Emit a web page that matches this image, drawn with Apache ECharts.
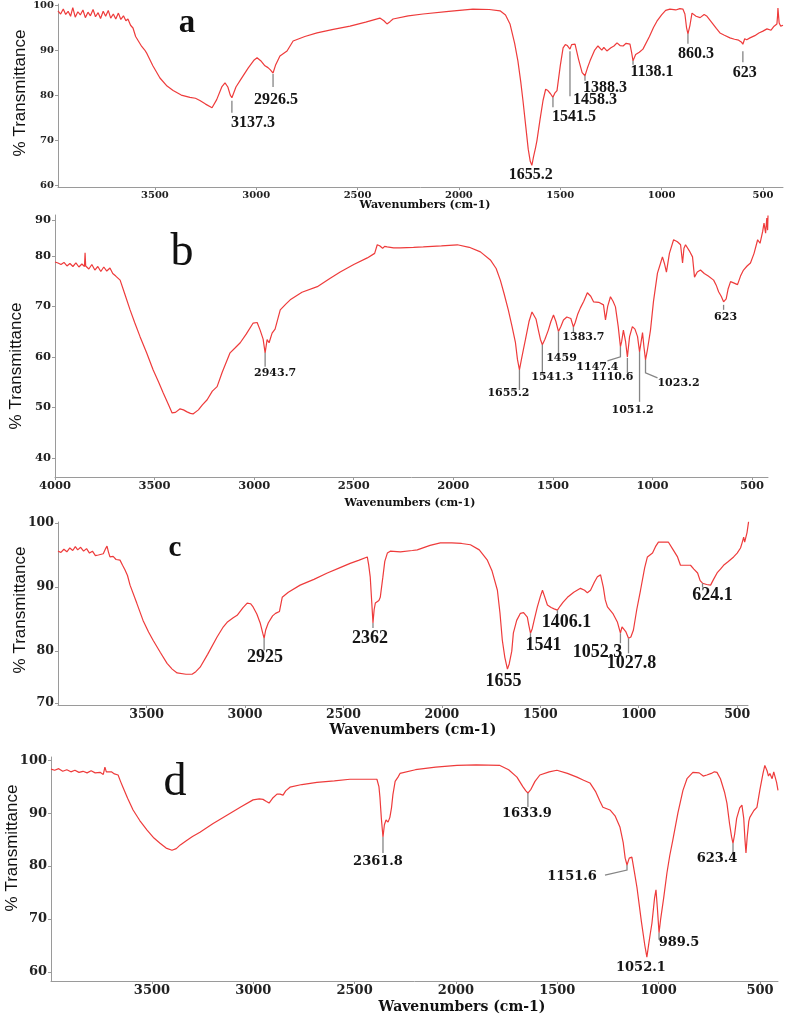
<!DOCTYPE html>
<html><head><meta charset="utf-8">
<script src="https://cdn.jsdelivr.net/npm/echarts@6/dist/echarts.min.js"></script>
<style>html,body{margin:0;padding:0;background:#fff}#c{width:787px;height:1017px}</style>
</head><body><div id="c"></div>
<script>
// ---------------- data (wavenumber cm-1, % transmittance) ----------------
const spectrumA = [[3978,98.7],[3965,98.0],[3952,99.1],[3940,97.9],[3928,98.6],[3916,97.5],[3905,99.4],[3893,97.3],[3880,98.5],[3868,97.8],[3855,98.9],[3843,97.2],[3830,98.4],[3818,97.6],[3805,99.0],[3793,97.4],[3780,98.3],[3768,97.0],[3755,98.6],[3743,97.5],[3730,98.8],[3718,97.1],[3705,98.0],[3693,96.9],[3680,98.2],[3668,96.8],[3655,97.6],[3643,96.5],[3633,96.9],[3620,95.5],[3608,94.9],[3595,93.0],[3580,91.9],[3565,90.8],[3550,90.0],[3539,89.2],[3510,86.5],[3475,83.8],[3440,82.0],[3410,81.0],[3370,80.0],[3327,79.5],[3300,79.3],[3278,78.8],[3250,78.0],[3218,77.2],[3195,79.0],[3170,81.8],[3154,82.7],[3140,81.8],[3128,80.0],[3120,79.4],[3100,81.8],[3080,83.2],[3040,86.0],[3010,87.8],[2996,88.3],[2975,87.5],[2957,86.5],[2942,86.1],[2930,85.6],[2917,84.9],[2905,86.6],[2883,88.7],[2848,89.8],[2818,92.0],[2760,93.0],[2700,93.8],[2620,94.6],[2537,95.3],[2460,96.2],[2390,97.1],[2370,96.5],[2355,95.8],[2340,96.3],[2325,96.9],[2250,97.6],[2177,98.0],[2050,98.6],[1931,99.1],[1850,99.0],[1797,98.7],[1770,97.8],[1748,95.8],[1725,91.5],[1709,87.6],[1695,83.0],[1684,78.8],[1670,73.0],[1658,68.0],[1648,65.3],[1640,64.4],[1632,66.3],[1622,68.3],[1615,69.9],[1600,74.5],[1585,78.8],[1572,81.3],[1561,81.0],[1548,80.3],[1536,79.5],[1526,80.5],[1516,81.0],[1500,86.5],[1486,90.5],[1475,91.2],[1465,91.0],[1452,90.2],[1444,91.2],[1435,91.4],[1427,91.3],[1410,88.0],[1392,85.0],[1378,84.3],[1366,86.0],[1353,87.6],[1330,90.0],[1314,90.9],[1295,90.0],[1285,90.6],[1270,89.8],[1250,90.5],[1235,90.9],[1220,91.6],[1205,91.0],[1190,90.9],[1175,91.5],[1156,91.3],[1148,89.5],[1141,87.6],[1128,89.0],[1110,89.5],[1092,90.2],[1060,93.0],[1040,95.0],[1023,96.4],[1000,97.8],[980,98.8],[959,99.1],[930,98.9],[910,99.2],[895,99.1],[885,98.0],[877,95.0],[870,93.6],[860,95.5],[850,98.2],[830,97.5],[810,97.2],[790,97.9],[776,97.5],[750,96.0],[730,94.8],[712,93.8],[690,93.3],[663,92.7],[640,92.4],[620,92.2],[607,91.8],[599,91.3],[590,92.5],[580,92.3],[564,92.7],[540,93.2],[520,93.8],[500,94.2],[480,94.7],[460,94.4],[445,95.3],[431,95.8],[428,97.5],[426,99.3],[420,96.0],[412,95.3],[406,94.9],[401,95.5]];

const spectrumB = [[4000,78.8],[3985,78.6],[3970,78.3],[3955,78.7],[3940,78.0],[3925,78.5],[3910,77.9],[3895,78.6],[3880,77.8],[3865,78.4],[3852,77.9],[3849,80.6],[3846,78.0],[3830,77.4],[3815,78.3],[3800,77.2],[3785,77.9],[3770,76.9],[3755,77.8],[3740,77.0],[3724,77.6],[3710,76.5],[3695,76.0],[3673,75.2],[3650,72.5],[3623,69.3],[3600,66.8],[3573,64.0],[3540,60.8],[3507,57.4],[3480,55.0],[3457,52.9],[3430,50.5],[3412,48.9],[3395,49.0],[3372,49.7],[3355,49.5],[3337,49.1],[3320,48.8],[3307,48.7],[3280,49.5],[3260,50.5],[3236,51.5],[3210,53.2],[3186,54.1],[3160,57.0],[3121,60.8],[3095,61.8],[3070,62.8],[3040,64.5],[3005,66.7],[2985,66.8],[2970,65.3],[2955,63.5],[2945,60.8],[2935,63.4],[2925,62.8],[2910,64.7],[2895,65.5],[2885,65.2],[2869,69.3],[2840,70.5],[2819,71.3],[2760,72.8],[2683,73.9],[2620,75.5],[2568,76.8],[2500,78.3],[2432,79.6],[2395,80.5],[2382,82.2],[2370,82.0],[2355,81.5],[2345,81.9],[2332,81.8],[2300,81.6],[2266,81.6],[2200,81.7],[2151,81.8],[2060,82.0],[1980,82.2],[1920,81.7],[1864,80.8],[1814,79.2],[1785,77.5],[1764,75.2],[1745,72.5],[1724,69.3],[1705,66.0],[1688,62.8],[1678,59.5],[1668,57.4],[1658,59.5],[1648,61.5],[1638,63.4],[1620,67.0],[1605,68.9],[1598,68.7],[1585,67.5],[1573,65.3],[1563,63.5],[1553,62.4],[1540,63.5],[1523,65.3],[1510,67.0],[1497,68.3],[1485,67.0],[1472,65.0],[1460,66.0],[1447,67.3],[1430,67.9],[1410,67.6],[1397,65.9],[1388,66.8],[1375,68.5],[1362,69.7],[1345,71.0],[1327,72.7],[1310,72.0],[1296,70.9],[1270,70.8],[1246,70.3],[1240,68.5],[1236,67.3],[1225,70.0],[1211,71.9],[1198,71.0],[1186,69.9],[1172,66.0],[1161,62.0],[1155,63.0],[1146,65.3],[1135,63.0],[1126,60.0],[1115,64.0],[1101,66.0],[1088,65.5],[1075,64.0],[1065,61.0],[1055,63.5],[1050,64.8],[1043,62.0],[1035,59.4],[1025,61.5],[1010,65.3],[995,71.0],[975,76.6],[960,78.5],[950,79.8],[940,78.5],[930,76.8],[915,80.5],[894,83.2],[875,82.8],[859,82.2],[849,78.6],[842,81.5],[834,82.2],[815,81.0],[799,79.8],[789,75.8],[775,76.8],[759,77.2],[740,76.5],[720,76.0],[693,75.2],[680,74.2],[668,72.9],[655,72.0],[643,70.9],[630,71.5],[620,73.5],[608,74.9],[590,74.6],[573,74.3],[558,76.0],[543,77.2],[525,78.0],[508,78.6],[490,80.5],[472,83.2],[460,82.5],[447,84.8],[440,86.5],[432,84.5],[426,87.5],[422,85.1],[420,88.0]];

const spectrumC = [[3950,95.6],[3935,95.4],[3920,95.9],[3905,95.5],[3890,96.1],[3875,95.7],[3862,96.3],[3850,95.8],[3835,96.2],[3820,95.6],[3805,96.0],[3790,95.3],[3775,95.6],[3760,94.9],[3745,95.0],[3736,94.7],[3720,95.2],[3708,96.0],[3701,96.4],[3694,95.5],[3686,94.7],[3670,94.8],[3655,94.3],[3635,94.2],[3622,93.4],[3610,92.7],[3597,91.8],[3584,90.3],[3550,87.5],[3518,84.8],[3490,83.0],[3467,81.7],[3430,79.8],[3396,78.1],[3370,77.2],[3345,76.6],[3300,76.4],[3269,76.4],[3250,76.8],[3228,77.5],[3190,79.5],[3142,82.2],[3110,83.8],[3091,84.5],[3060,85.2],[3040,85.6],[3010,86.8],[2989,87.5],[2972,87.4],[2959,86.9],[2940,85.8],[2923,84.4],[2910,82.8],[2903,82.0],[2895,83.3],[2882,84.4],[2860,85.5],[2845,85.9],[2837,85.7],[2825,86.2],[2811,88.4],[2780,89.2],[2720,90.3],[2650,91.2],[2582,92.2],[2520,93.0],[2466,93.7],[2420,94.2],[2379,94.7],[2372,93.5],[2364,91.6],[2356,87.5],[2350,84.4],[2344,86.5],[2338,87.5],[2328,87.6],[2320,87.9],[2313,88.4],[2300,91.5],[2290,94.0],[2277,95.3],[2262,95.6],[2211,95.5],[2150,95.7],[2125,95.8],[2060,96.5],[2008,96.9],[1950,96.9],[1900,96.8],[1855,96.6],[1810,95.8],[1769,94.2],[1745,92.5],[1718,89.5],[1705,86.0],[1693,81.7],[1680,79.0],[1667,77.2],[1658,78.0],[1645,80.0],[1637,82.8],[1620,84.8],[1601,85.9],[1585,86.0],[1566,85.3],[1558,84.0],[1550,82.8],[1541,83.5],[1530,85.0],[1515,86.9],[1500,88.5],[1489,89.5],[1478,88.5],[1464,87.2],[1445,86.8],[1430,86.6],[1413,86.4],[1400,87.0],[1385,87.6],[1362,88.4],[1330,89.2],[1296,89.8],[1275,89.5],[1261,89.1],[1245,89.5],[1225,90.8],[1210,91.6],[1194,91.9],[1180,90.0],[1170,88.0],[1159,86.9],[1130,85.8],[1108,84.5],[1093,82.8],[1085,83.8],[1078,83.6],[1065,83.0],[1052,82.0],[1040,82.2],[1027,83.3],[1010,86.5],[991,89.5],[970,93.0],[956,94.7],[943,95.0],[930,95.3],[915,96.3],[900,97.0],[870,97.0],[849,97.0],[825,95.8],[803,94.7],[788,93.4],[760,93.4],[737,93.4],[720,92.8],[701,92.2],[688,91.0],[676,90.6],[655,90.4],[635,90.3],[620,91.2],[600,92.3],[585,92.8],[569,93.4],[545,94.0],[518,94.7],[500,95.3],[483,96.1],[475,96.9],[467,97.8],[462,97.0],[457,96.9],[450,98.5],[442,100.2]];

const spectrumD = [[3998,98.3],[3980,98.1],[3960,98.4],[3940,97.9],[3920,98.2],[3900,97.8],[3880,98.1],[3860,97.7],[3840,97.9],[3820,97.6],[3800,98.0],[3780,97.6],[3756,97.7],[3740,97.3],[3732,98.7],[3725,97.8],[3717,97.5],[3700,97.8],[3685,97.4],[3667,97.2],[3655,96.0],[3643,94.9],[3620,92.8],[3593,90.6],[3560,88.6],[3524,86.8],[3490,85.3],[3460,84.3],[3430,83.4],[3401,83.0],[3380,83.3],[3360,84.0],[3327,84.9],[3300,85.6],[3263,86.4],[3200,88.0],[3130,89.6],[3060,91.2],[3001,92.5],[2970,92.7],[2952,92.6],[2935,92.2],[2922,91.9],[2905,92.8],[2883,93.6],[2868,93.6],[2853,93.4],[2840,94.2],[2819,94.9],[2760,95.4],[2686,95.8],[2600,96.1],[2523,96.4],[2450,96.4],[2390,96.4],[2380,95.0],[2375,93.0],[2368,89.0],[2360,85.5],[2353,87.8],[2345,88.7],[2335,88.3],[2326,89.2],[2318,91.0],[2311,93.5],[2300,96.0],[2286,96.8],[2276,97.5],[2200,98.2],[2100,98.7],[1995,99.0],[1900,99.1],[1783,99.0],[1740,98.2],[1699,96.8],[1670,95.0],[1655,94.2],[1645,93.8],[1630,94.5],[1610,96.0],[1586,97.2],[1540,97.8],[1502,98.1],[1450,97.5],[1403,96.8],[1370,96.2],[1339,95.7],[1310,94.0],[1290,92.3],[1275,91.1],[1240,90.6],[1215,89.5],[1191,87.4],[1175,84.5],[1165,81.5],[1156,80.2],[1145,81.5],[1132,81.7],[1120,79.0],[1107,76.0],[1085,69.5],[1068,65.0],[1058,62.8],[1048,65.5],[1040,67.5],[1033,69.2],[1020,74.0],[1013,75.5],[1006,72.0],[998,67.4],[990,70.0],[975,74.0],[959,78.7],[945,82.0],[930,84.9],[905,90.0],[880,94.3],[860,96.5],[831,97.7],[800,97.6],[780,97.0],[762,97.2],[740,97.5],[725,97.8],[712,97.7],[695,96.5],[675,94.0],[663,91.9],[650,88.0],[640,85.5],[633,84.3],[625,86.0],[615,89.0],[600,91.0],[589,91.5],[580,89.0],[574,85.0],[569,82.5],[563,85.5],[555,88.5],[550,89.2],[530,90.5],[515,91.1],[500,94.5],[485,97.5],[476,99.0],[465,98.0],[458,97.0],[451,97.5],[440,96.5],[432,97.8],[426,97.7],[418,95.8],[411,94.3]];

// peak annotations: position on the curve and label text
const peaksA = [[3120,79.4],[2917,84.9],[1640,64.4],[1536,79.5],[1452,90.2],[1378,84.3],[1141,87.6],[870,93.6],[599,91.3]];
const peakLabelsA = ['3137.3','2926.5','1655.2','1541.5','1458.3','1388.3','1138.1','860.3','623'];
const peaksB = [[2945,60.8],[1668,57.4],[1553,62.4],[1472,65.0],[1397,65.9],[1161,62.0],[1126,60.0],[1065,61.0],[1035,59.4],[643,70.9]];
const peakLabelsB = ['2943.7','1655.2','1541.3','1459','1383.7','1147.4','1110.6','1051.2','1023.2','623'];
const peaksC = [[2903,82.0],[2350,84.4],[1667,77.2],[1550,82.8],[1413,86.4],[1093,82.8],[1052,82.0],[676,90.6]];
const peakLabelsC = ['2925','2362','1655','1541','1406.1','1052.3','1027.8','624.1'];
const peaksD = [[2360,85.5],[1645,93.8],[1156,80.2],[1058,62.8],[998,67.4],[633,84.3]];
const peakLabelsD = ['2361.8','1633.9','1151.6','1052.1','989.5','623.4'];

// tick labels
const xTicksA = [3500,3000,2500,2000,1500,1000,500];
const xTicksB = [4000,3500,3000,2500,2000,1500,1000,500];
const xTicksC = [3500,3000,2500,2000,1500,1000,500];
const xTicksD = [3500,3000,2500,2000,1500,1000,500];
const yTicksA = [60,70,80,90,100];
const yTicksB = [40,50,60,70,80,90];
const yTicksC = [70,80,90,100];
const yTicksD = [60,70,80,90,100];

// ---------------- layout / style (pixel offsets of annotation leaders & texts) ----------------
const layA = [
  {line:[[0,3],[0,15]],dx:21,dy:25},{line:[[0,1],[0,14]],dx:3,dy:27},{dx:-1,dy:9},
  {line:[[0,0],[0,10]],dx:21,dy:20},{line:[[0,2],[0,47]],dx:25,dy:51},{line:[[0,0],[0,5]],dx:20,dy:12},
  {line:[[0,0],[0,4]],dx:19,dy:11},{line:[[0,0],[0,10]],dx:8,dy:20},{line:[[0,7],[0,18]],dx:2,dy:29}];
const layB = [
  {line:[[0,0],[0,14]],dx:10,dy:20},{line:[[0,0],[0,20]],dx:-11,dy:23},{line:[[0,0],[0,28]],dx:10,dy:32},
  {line:[[0,0],[0,22]],dx:3,dy:27},{line:[[0,0],[0,6]],dx:10,dy:10},{line:[[0,0],[0,10],[-13,14]],dx:-23,dy:20},
  {line:[[0,1],[0,16]],dx:-15,dy:20},{line:[[0,0],[0,50]],dx:-7,dy:58},{line:[[0,0],[0,13],[12,18]],dx:33,dy:23},
  {line:[[0,3],[0,8]],dx:2,dy:15}];
const layC = [
  {line:[[0,0],[0,12]],dx:1,dy:19},{line:[[0,0],[0,5]],dx:-3,dy:15},{dx:-4,dy:12},
  {line:[[0,0],[0,5]],dx:13,dy:12},{line:[[0,0],[0,4]],dx:9,dy:12},{line:[[0,0],[0,10]],dx:-23,dy:19},
  {line:[[0,0],[0,15]],dx:3,dy:25},{line:[[0,0],[0,4]],dx:10,dy:12}];
const layD = [
  {line:[[0,0],[0,16]],dx:-5,dy:25},{line:[[0,0],[0,14]],dx:-1,dy:21},{line:[[0,0],[0,5],[-22,10]],dx:-55,dy:12},
  {dx:-6,dy:10},{line:[[0,0],[0,7]],dx:20,dy:10},{line:[[0,0],[0,10]],dx:-16,dy:15}];

const RED = '#ee3b3b';
const GRAY = '#9a9a9a';
const panels = [
  {grid:{left:58,top:3,width:725,height:184}, xr:[401,3978], yr:[59.6,100.2], data:spectrumA,
   peaks:peaksA, labels:peakLabelsA, lay:layA, xt:xTicksA, yt:yTicksA, yv:yTicksA, fs:10, pf:'Liberation Serif', pfs:16},
  {grid:{left:55,top:215,width:713,height:262}, xr:[420,4000], yr:[36.2,88.1], data:spectrumB,
   peaks:peaksB, labels:peakLabelsB, lay:layB, xt:xTicksB, yt:yTicksB, yv:[40,50,60,70,80,87.1], fs:11.5, pf:'DejaVu Serif', pfs:11},
  {grid:{left:58,top:522,width:690,height:183}, xr:[445,3950], yr:[71.6,100.15], data:spectrumC,
   peaks:peaksC, labels:peakLabelsC, lay:layC, xt:xTicksC, yt:yTicksC, yv:[71.9,80,90,100], fs:12.5, pf:'Liberation Serif', pfs:18},
  {grid:{left:51,top:757,width:727,height:224}, xr:[411,3998], yr:[58.3,100.6], data:spectrumD,
   peaks:peaksD, labels:peakLabelsD, lay:layD, xt:xTicksD, yt:yTicksD, yv:yTicksD, fs:13, pf:'DejaVu Serif', pfs:13}
];

const grids=[], xAxes=[], yAxes=[], series=[];
panels.forEach((p,i)=>{
  grids.push(p.grid);
  xAxes.push({type:'value', gridIndex:i, inverse:true, min:p.xr[0], max:p.xr[1],
    axisLine:{show:true,onZero:false,lineStyle:{color:GRAY,width:1}},
    axisTick:{show:true,customValues:p.xt,length:3,lineStyle:{color:GRAY}},
    axisLabel:{customValues:p.xt,margin:3,fontFamily:'DejaVu Serif',fontWeight:'bold',fontSize:p.fs,color:'#222',
      formatter:(v)=>String(Math.round(v))},
    splitLine:{show:false}});
  yAxes.push({type:'value', gridIndex:i, min:p.yr[0], max:p.yr[1],
    axisLine:{show:true,onZero:false,lineStyle:{color:GRAY,width:1}},
    axisTick:{show:true,customValues:p.yv,length:3,lineStyle:{color:GRAY}},
    axisLabel:{customValues:p.yv,margin:4,fontFamily:'DejaVu Serif',fontWeight:'bold',fontSize:p.fs,color:'#222',
      formatter:(v)=>{ let best=p.yt[0]; p.yt.forEach(t=>{ if(Math.abs(t-v)<Math.abs(best-v)) best=t; }); return String(best); }},
    splitLine:{show:false}});
  series.push({type:'line', xAxisIndex:i, yAxisIndex:i, data:p.data, showSymbol:false, symbol:'none',
    lineStyle:{color:RED,width:1.2}, animation:false, silent:true, z:3});
  series.push({type:'custom', xAxisIndex:i, yAxisIndex:i, coordinateSystem:'cartesian2d', data:p.peaks,
    clip:false, silent:true, animation:false, z:5,
    renderItem:(params, api)=>{
      const k = params.dataIndex;
      const pt = api.coord([api.value(0), api.value(1)]);
      const L = p.lay[k];
      const ch = [];
      if (L.line) ch.push({type:'polyline', shape:{points:L.line.map(q=>[pt[0]+q[0], pt[1]+q[1]])},
        style:{stroke:'#858585', lineWidth:1.3, fill:'none'}});
      ch.push({type:'text', style:{text:p.labels[k], x:pt[0]+L.dx, y:pt[1]+L.dy, align:'center', verticalAlign:'middle',
        fontFamily:p.pf, fontWeight:'bold', fontSize:p.pfs, fill:'#151515'}});
      return {type:'group', children:ch};
    }});
});

const txt = (t,x,y,o)=>Object.assign({type:'text', x:x, y:y, style:Object.assign({text:t, align:'center', verticalAlign:'middle', fill:'#111'}, o.style)}, o.rot?{rotation:Math.PI/2}:{});
const graphic = [
  txt('% Transmittance',20,93,{rot:true,style:{fontFamily:'Liberation Sans',fontSize:17}}),
  txt('% Transmittance',16,366,{rot:true,style:{fontFamily:'Liberation Sans',fontSize:17}}),
  txt('% Transmittance',20,610,{rot:true,style:{fontFamily:'Liberation Sans',fontSize:17}}),
  txt('% Transmittance',12,848,{rot:true,style:{fontFamily:'Liberation Sans',fontSize:17}}),
  txt('Wavenumbers (cm-1)',425,205,{style:{fontFamily:'DejaVu Serif',fontWeight:'bold',fontSize:11}}),
  txt('Wavenumbers (cm-1)',410,503,{style:{fontFamily:'DejaVu Serif',fontWeight:'bold',fontSize:11}}),
  txt('Wavenumbers (cm-1)',413,730,{style:{fontFamily:'DejaVu Serif',fontWeight:'bold',fontSize:14}}),
  txt('Wavenumbers (cm-1)',462,1007,{style:{fontFamily:'DejaVu Serif',fontWeight:'bold',fontSize:14}}),
  txt('a',187,23,{style:{fontFamily:'Liberation Serif',fontWeight:'bold',fontSize:33}}),
  txt('b',182,253,{style:{fontFamily:'Liberation Serif',fontSize:46}}),
  txt('c',175,549,{style:{fontFamily:'Liberation Serif',fontWeight:'bold',fontSize:29}}),
  txt('d',175,783,{style:{fontFamily:'Liberation Serif',fontSize:46}})
];

const chart = echarts.init(document.getElementById('c'), null, {renderer:'canvas'});
chart.setOption({animation:false, backgroundColor:'#fff', grid:grids, xAxis:xAxes, yAxis:yAxes, series:series, graphic:graphic});
</script></body></html>
